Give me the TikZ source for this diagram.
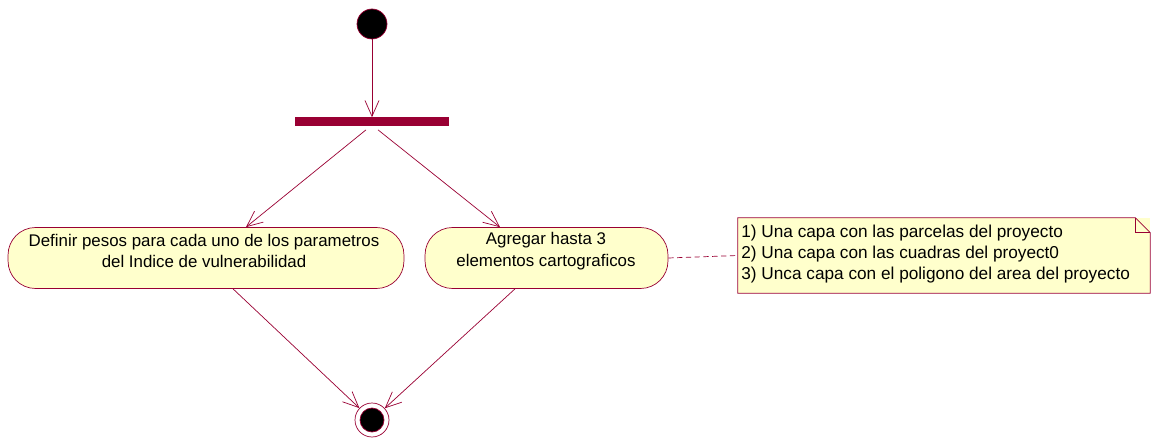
\documentclass[tikz,border=0pt]{standalone}
\usepackage{fontspec}
\setmainfont{Liberation Sans}
\usetikzlibrary{arrows.meta}
\definecolor{umlred}{RGB}{153,0,51}
\definecolor{umlfill}{RGB}{255,255,204}

\begin{document}
\begin{tikzpicture}[x=0.02cm, y=-0.02cm, >={Straight Barb[length=9pt,width=8pt]}]
\useasboundingbox (0,0) rectangle (1159,442);
\tikzset{
  actividad/.style={draw=umlred, fill=umlfill, rounded corners=0.55cm, minimum height=1.22cm, inner sep=0pt},
  texto/.style={align=center, font=\fontsize{9.6}{12.4}\selectfont, inner sep=0pt},
  nota/.style={fill=umlfill, minimum width=8.24cm, minimum height=1.5cm, inner sep=0pt}
}
\node[circle, fill=black, draw=umlred, minimum size=0.6cm, inner sep=0pt] (inicio) at (372,24) {};
\node[fill=umlred, minimum width=3.08cm, minimum height=0.18cm, inner sep=0pt] (fork) at (372,122) {};
\node[actividad, minimum width=7.92cm] (pesos) at (206,258) {};
\node[texto] (pesos-txt) at (204,251) {Definir pesos para cada uno de los parametros\\del Indice de vulnerabilidad};
\node[actividad, minimum width=4.86cm] (agregar) at (546.5,258) {};
\node[texto] (agregar-txt) at (546,251) {Agregar hasta 3\\elementos cartograficos};
\node[nota] (nota) at (944,255.5) {};
\node[texto, align=left, anchor=west, font=\fontsize{9.8}{12.2}\selectfont] (nota-txt) at (741,254)
  {1) Una capa con las parcelas del proyecto\\
   2) Una capa con las cuadras del proyect0\\
   3) Unca capa con el poligono del area del proyecto};
\node[circle, draw=umlred, minimum size=0.68cm, inner sep=0pt] (fin) at (372,420) {};
\node[circle, fill=black, draw=umlred, minimum size=0.48cm, inner sep=0pt] (finin) at (372,420) {};

% contorno de la nota
\draw[umlred] (nota.north west) -- ([xshift=-0.3cm]nota.north east) -- ([yshift=-0.3cm]nota.north east)
  -- (nota.south east) -- (nota.south west) -- cycle;
\draw[umlred] ([xshift=-0.3cm]nota.north east) -- ([xshift=-0.3cm,yshift=-0.3cm]nota.north east)
  -- ([yshift=-0.3cm]nota.north east);

\draw[->, umlred] (inicio) -- (fork);
\draw[->, umlred] (fork.south) ++(-6,3) coordinate (f1) (f1) -- (pesos.north -| 246,0);
\draw[->, umlred] (fork.south) ++(6,3) coordinate (f2) (f2) -- (agregar.north -| 500,0);
\draw[->, umlred] (pesos.south -| 233,0) -- (fin);
\draw[->, umlred] (agregar.south -| 515,0) -- (fin);
\draw[umlred, dash pattern=on 3pt off 2pt] (agregar.east) -- (nota.west);
\end{tikzpicture}
\end{document}
